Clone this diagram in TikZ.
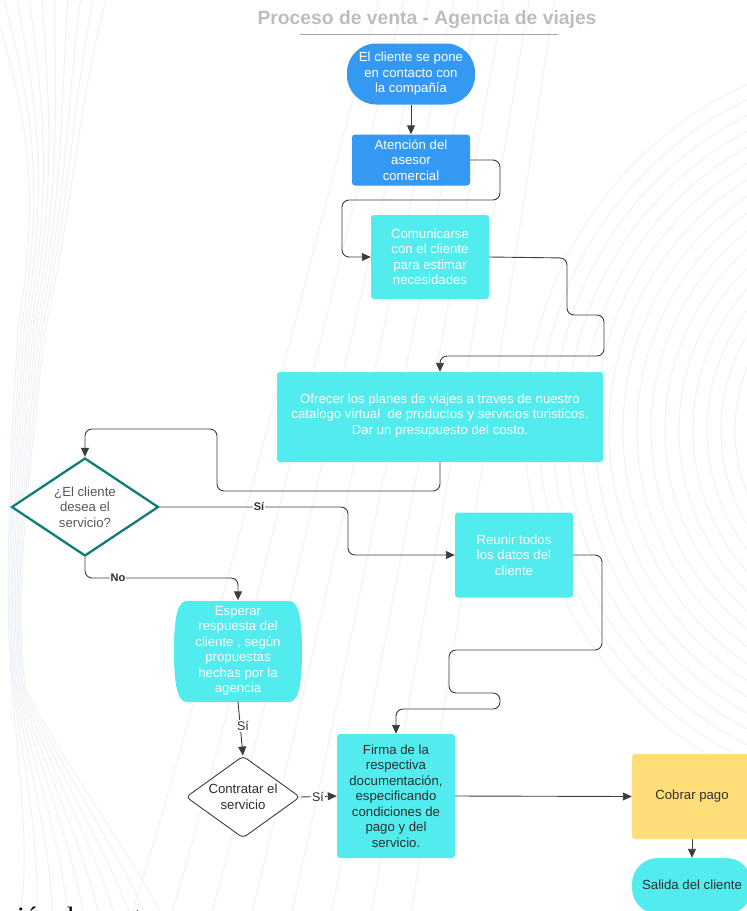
\documentclass[tikz,border=0pt]{standalone}
\usepackage{fontspec}
\setmainfont{Liberation Sans}
\newfontfamily\serifbot{Liberation Serif}
\usetikzlibrary{shapes.geometric,arrows.meta,calc}
\definecolor{bluebox}{HTML}{3399F2}
\definecolor{cyanbox}{HTML}{52ECEE}
\definecolor{yellowbox}{HTML}{FFDD78}
\definecolor{tealline}{HTML}{127C78}
\definecolor{linegray}{HTML}{3C3C3C}
\definecolor{titlegray}{HTML}{BDBDBD}
\definecolor{bgline}{HTML}{EEF1F5}
\definecolor{darktext}{HTML}{2E2E2E}
\begin{document}
\begin{tikzpicture}[x=1pt,y=-1pt,
  txt/.style={font=\fontsize{13.2}{15.5}\selectfont, align=center},
  box/.style={txt, fill=cyanbox, text=white, inner sep=2pt, rounded corners=3pt},
  bluebx/.style={box, fill=bluebox},
  conn/.style={draw=linegray, line width=0.9pt, rounded corners=7pt, -{Triangle[length=9pt,width=8pt]}},
  lblb/.style={font=\bfseries\fontsize{11}{13}\selectfont, fill=white, inner sep=1pt, text=darktext},
  lbl/.style={font=\fontsize{12.5}{14}\selectfont, fill=white, inner sep=1pt, text=darktext},
  bgl/.style={draw=bgline, line width=1pt}]
\useasboundingbox (0,0) rectangle (747,911);
\clip (0,0) rectangle (747,911);
% faint background lines
\foreach \r in {170,184,...,380} \draw[bgl] (905,430) circle[radius=\r];
\foreach \i in {0,...,9} \draw[bgl] (\i*13-10,-5) .. controls (\i*5+30,120) and (\i*4+40,190) .. (\i*3+18,330) .. controls (\i*2+8,500) and (\i*1+5,600) .. (\i*1.5+12,690) .. controls (\i*6+20,780) and (\i*11+30,850) .. (\i*16+20,920);
\foreach \i in {0,...,7} \draw[bgl] (\i*40+130,920) .. controls (\i*35+200,700) and (\i*30+300,300) .. (\i*25+380,-5);
% title
\node[font=\bfseries\fontsize{19.3}{22}\selectfont, text=titlegray] (title) at (427,20) {Proceso de venta - Agencia de viajes};
\draw[draw=gray!70, line width=0.8pt] (300,34) -- (558,34);
% nodes
\node[bluebx, minimum width=128pt, minimum height=61pt, rounded corners=29pt] (n1) at (411,74) {El cliente se pone\\en contacto con\\la compañía};
\node[bluebx, minimum width=118pt, minimum height=51pt] (n2) at (411,160) {Atención del\\asesor\\comercial};
\node[box, minimum width=118pt, minimum height=84pt] (n3) at (430,257) {Comunicarse\\con el cliente\\para estimar\\necesidades};
\node[box, minimum width=326pt, minimum height=90pt, text depth=6pt] (n4) at (440,417) {Ofrecer los planes de viajes a traves de nuestro\\catalogo virtual\ \ de productos y servicios turisticos.\\Dar un presupuesto del costo.};
\node[txt, diamond, aspect=1.5, inner sep=0pt, draw=tealline, line width=2.3pt, fill=white, text=darktext!80, minimum width=147pt, minimum height=98pt] (d1) at (85,507) {¿El cliente\\desea el\\servicio?};
\node[box, minimum width=118pt, minimum height=85pt] (reunir) at (514,555) {Reunir todos\\los datos del\\cliente};
\fill[cyanbox] (186,601) -- (290,601) .. controls (300,602) and (302,625) .. (302,651) .. controls (302,677) and (300,701) .. (290,702) -- (186,702) .. controls (176,701) and (174,677) .. (174,651) .. controls (174,625) and (176,602) .. (186,601) -- cycle;
\node[txt, text=white, minimum width=128pt, minimum height=101pt] (esperar) at (238,651) {Esperar\\respuesta del\\cliente , según\\propuestas\\hechas por la\\agencia};
\node[txt, diamond, aspect=1.4, inner sep=0pt, draw=linegray, line width=0.9pt, rounded corners=4pt, fill=white, text=darktext, minimum width=114pt, minimum height=82pt] (d2) at (243,797) {Contratar el\\servicio};
\node[box, text=darktext, minimum width=118pt, minimum height=124pt] (firma) at (396,796) {Firma de la\\respectiva\\documentación,\\especificando\\condiciones de\\pago y del\\servicio.};
\node[box, fill=yellowbox, text=darktext, minimum width=120pt, minimum height=85pt] (cobrar) at (692,796.5) {Cobrar pago};
\node[box, text=darktext, minimum width=120pt, minimum height=56pt, rounded corners=26pt, text depth=2pt] (salida) at (692,886) {Salida del cliente};
% connectors
\draw[conn] (n1.south) -- (n2.north);
\draw[conn] (n2.east) -- (500,160) -- (500,200) -- (342,200) |- (n3.west);
\draw[conn] (n3.east) -- (567,258) -- (567,315) -- (604,315) -- (604,356) -- (440,356) -- (n4.north);
\draw[conn] (n4.south) -- (440,491) -- (217,491) -- (217,429) -- (85,429) -- (d1.north);
\draw[conn] (d1.east) -- (348,507) -- (348,555) -- (reunir.west);
\node[lblb] (ls1) at (259,507) {Sí};
\draw[conn] (d1.south) -- (85,578) -- (238,578) -- (esperar.north);
\node[lblb] (lno) at (118,578) {No};
\draw[conn] (reunir.east) -- (602,555) -- (602,650) -- (449,650) -- (449,693) -- (500,693) -- (500,709) -- (396,709) -- (firma.north);
\draw[conn] (esperar.south) -- (d2.north);
\node[lbl] (ls2) at (243,726) {Sí};
\draw[conn] (d2.east) -- (firma.west);
\node[lbl] (ls3) at (318,797) {Sí};
\draw[conn] (firma.east) -- (cobrar.west);
\draw[conn] (cobrar.south) -- (salida.north);
% cut-off bottom text
\node[anchor=base west, font=\serifbot\fontsize{28}{30}\selectfont, inner sep=0pt] (bottomtxt) at (17,926) {ión de venta};
\end{tikzpicture}
\end{document}
